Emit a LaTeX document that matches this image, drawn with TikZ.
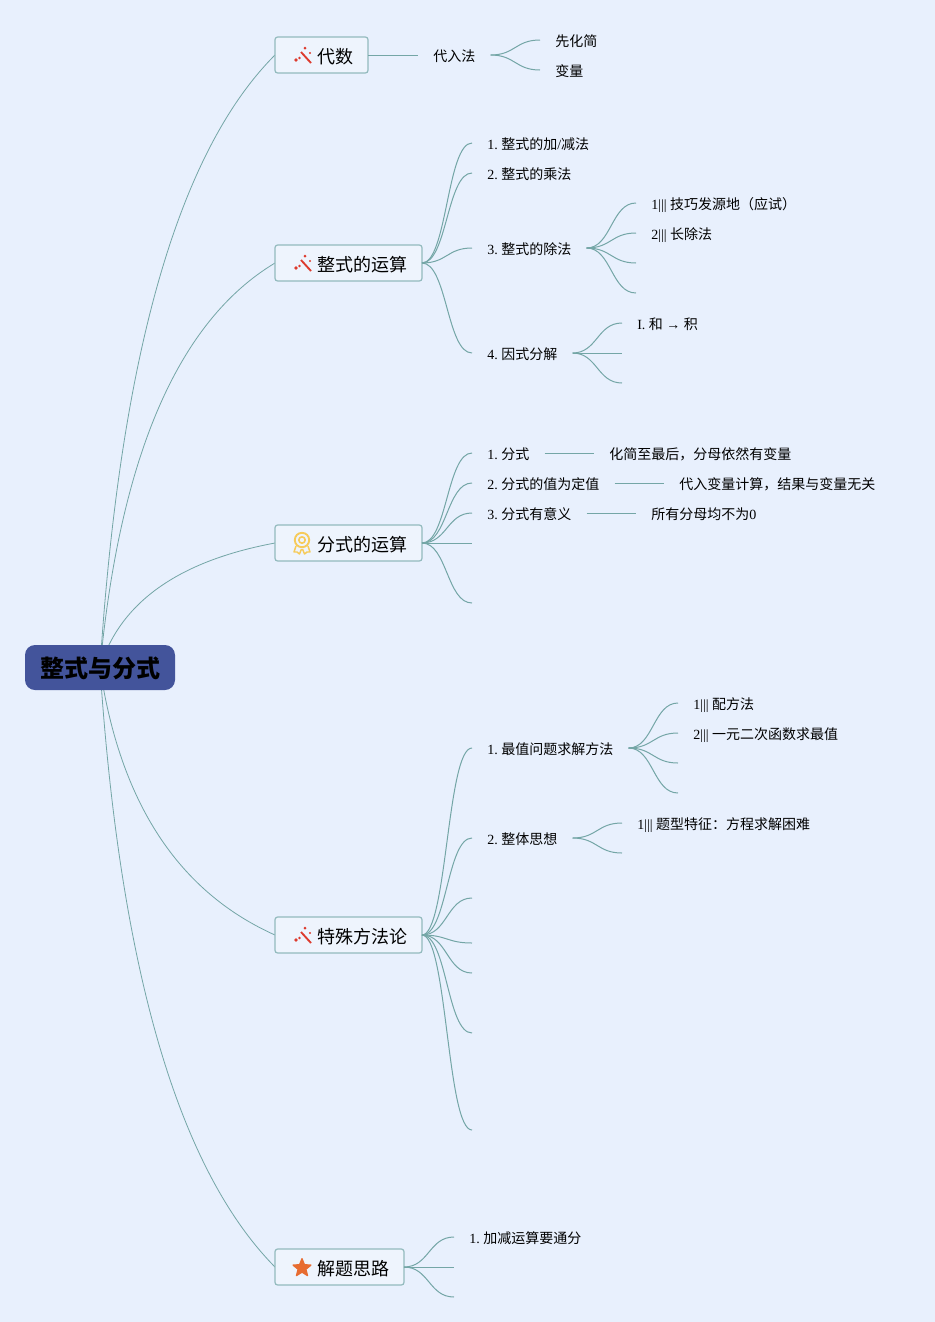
\documentclass[tikz,border=0pt]{standalone}
\usepackage{fontspec}
\usepackage{xcolor}
\setmainfont{Liberation Serif}
\newfontfamily\zh{Noto Sans CJK SC}
\frenchspacing
\usetikzlibrary{shapes.geometric, positioning, calc, backgrounds}
\definecolor{pagebg}{HTML}{E8F0FD}
\definecolor{rootblue}{HTML}{43549B}
\definecolor{boxfill}{HTML}{EEF4FD}
\definecolor{boxline}{HTML}{92BABD}
\definecolor{linkgreen}{HTML}{74A6A6}
\definecolor{wandred}{HTML}{DD3B2E}
\definecolor{medalgold}{HTML}{F6CB5A}
\definecolor{staramber}{HTML}{E76C31}

\begin{document}
\begin{tikzpicture}[
    x=0.75pt, y=-0.75pt,
    rootnode/.style={rectangle, fill=rootblue, rounded corners=7.5pt, minimum width=112.5pt, minimum height=33.75pt,
                 inner sep=0pt, text height=15.5pt, text depth=-1.5pt, font=\zh\bfseries\fontsize{18}{20}\selectfont, text=black},
    mainbox/.style={rectangle, draw=boxline, line width=0.9pt, fill=boxfill, rounded corners=2pt, anchor=west, outer sep=0pt,
                 minimum height=27pt, inner xsep=11.25pt, inner ysep=0pt, text height=12pt, text depth=0pt,
                 font=\zh\fontsize{13.5}{16}\selectfont},
    topic/.style={anchor=west, inner xsep=11.25pt, inner ysep=0pt, text height=9.5pt, text depth=0.5pt,
                 font=\fontsize{10.5}{13}\selectfont},
    rootlink/.style={linkgreen, line width=0.6pt},
    branch/.style={linkgreen, line width=0.75pt, to path={let \p1=(\tikztostart), \p2=(\tikztotarget) in
                 .. controls ({0.5*\x1+0.5*\x2},\y1) and ({0.5*\x1+0.5*\x2},\y2) .. (\tikztotarget) \tikztonodes}},
    wandicon/.pic={
        \draw[wandred, line width=1.4pt] (-1,-3) -- (9,8);
        \fill[wandred] (-6,5) circle (1.8) (-2.5,3) circle (1.3) (3,-7) circle (1.5) (8,-2) circle (1.1);
    },
    medalicon/.pic={
        \draw[medalgold, line width=1.4pt] (0,-3) circle (7.2);
        \draw[medalgold, line width=1.2pt] (0,-3) circle (3.2);
        \draw[medalgold, line width=1.1pt, line join=round] (-6,3) -- (-8,9) -- (-5,9) -- (-2.5,11) -- (-0.5,6);
        \draw[medalgold, line width=1.1pt, line join=round] (6,3) -- (8,9) -- (5,9) -- (2.5,11) -- (0.5,6);
    }
]

\begin{scope}[on background layer]
\fill[pagebg] (0,0) rectangle (935,1322);
\end{scope}
\useasboundingbox (0,0) rectangle (935,1322);

\node[rootnode] (root) at (100,667.5) {\hspace*{1pt}整式与分式};

\node[mainbox] (b1) at (275,55) {\hspace*{20.25pt}代数};
\node[mainbox] (b2) at (275,263) {\hspace*{20.25pt}整式的运算};
\node[mainbox] (b3) at (275,543) {\hspace*{20.25pt}分式的运算};
\node[mainbox] (b4) at (275,935) {\hspace*{20.25pt}特殊方法论};
\node[mainbox] (b5) at (275,1267) {\hspace*{20.25pt}解题思路};

\pic at (302,55) {wandicon};
\pic at (302,263) {wandicon};
\pic at (302,543) {medalicon};
\pic at (302,935) {wandicon};
\node[star, star points=5, star point ratio=2.3, fill=staramber, draw=staramber, line join=round, line width=1pt,
      minimum size=14pt, inner sep=0pt] (starmark) at (302,1268) {};

\begin{scope}[on background layer]
\foreach \b/\cy in {b1/200, b2/350, b3/570, b4/870, b5/1120} {
    \coordinate (ctl) at (130,\cy);
    \draw[rootlink] (root.center) .. controls ($(root.center)!0.667!(ctl)$) and ($(\b.west)!0.667!(ctl)$) .. (\b.west);
}
\end{scope}

\node[topic] (a1) at (418,55) {\zh 代入法};
\node[topic] (a11) at (540,40) {\zh 先化简};
\node[topic] (a12) at (540,70) {\zh 变量};
\draw[branch] (b1.east) to (a1.west);
\foreach \t in {a11,a12} {
    \draw[branch] (a1.east) to (\t.west);
}

\node[topic] (c1) at (472,143) {1. \zh 整式的加{\rmfamily /}减法};
\node[topic] (c2) at (472,173) {2. \zh 整式的乘法};
\node[topic] (c3) at (472,248) {3. \zh 整式的除法};
\node[topic] (c4) at (472,353) {4. \zh 因式分解};
\foreach \t in {c1,c2,c3,c4} {
    \draw[branch] (b2.east) to (\t.west);
}

\node[topic] (c31) at (636,203) {1||| \zh 技巧发源地（应试）};
\node[topic] (c32) at (636,233) {2||| \zh 长除法};
\coordinate (c33) at (636,263);
\coordinate (c34) at (636,293);
\foreach \t in {c31.west,c32.west,c33,c34} {
    \draw[branch] (c3.east) to (\t);
}

\node[topic] (c41) at (622,323) {I. {\zh 和} → {\zh 积}};
\coordinate (c42) at (622,353);
\coordinate (c43) at (622,383);
\foreach \t in {c41.west,c42,c43} {
    \draw[branch] (c4.east) to (\t);
}

\node[topic] (d1) at (472,453) {1. \zh 分式};
\node[topic] (d2) at (472,483) {2. \zh 分式的值为定值};
\node[topic] (d3) at (472,513) {3. \zh 分式有意义};
\coordinate (d4) at (472,543);
\coordinate (d5) at (472,603);
\foreach \t in {d1.west,d2.west,d3.west,d4,d5} {
    \draw[branch] (b3.east) to (\t);
}

\node[topic] (d11) at (594,453) {\zh 化简至最后，分母依然有变量};
\node[topic] (d21) at (664,483) {\zh 代入变量计算，结果与变量无关};
\node[topic] (d31) at (636,513) {{\zh 所有分母均不为}0};
\foreach \i in {1,2,3} {
    \draw[branch] (d\i.east) to (d\i1.west);
}

\node[topic] (e1) at (472,748) {1. \zh 最值问题求解方法};
\node[topic] (e2) at (472,838) {2. \zh 整体思想};
\coordinate (e3) at (472,898);
\coordinate (e4) at (472,943);
\coordinate (e5) at (472,973);
\coordinate (e6) at (472,1033);
\coordinate (e7) at (472,1130);
\foreach \t in {e1.west,e2.west,e3,e4,e5,e6,e7} {
    \draw[branch] (b4.east) to (\t);
}

\node[topic] (e11) at (678,703) {1||| \zh 配方法};
\node[topic] (e12) at (678,733) {2||| \zh 一元二次函数求最值};
\coordinate (e13) at (678,763);
\coordinate (e14) at (678,793);
\foreach \t in {e11.west,e12.west,e13,e14} {
    \draw[branch] (e1.east) to (\t);
}

\node[topic] (e21) at (622,823) {1||| \zh 题型特征：方程求解困难};
\coordinate (e22) at (622,853);
\foreach \t in {e21.west,e22} {
    \draw[branch] (e2.east) to (\t);
}

\node[topic] (f1) at (454,1237) {1. \zh 加减运算要通分};
\coordinate (f2) at (454,1267);
\coordinate (f3) at (454,1297);
\foreach \t in {f1.west,f2,f3} {
    \draw[branch] (b5.east) to (\t);
}
\end{tikzpicture}
\end{document}
